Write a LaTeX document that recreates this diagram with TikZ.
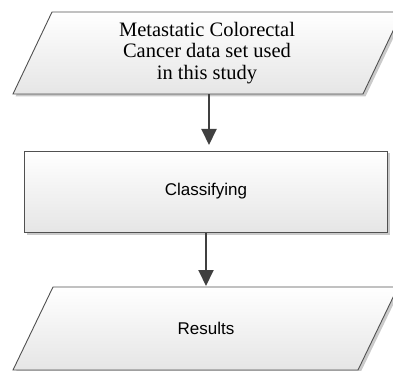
\documentclass[tikz,border=0pt]{standalone}
\usepackage{fontspec}
\setmainfont{Liberation Serif}
\newfontfamily\sansf{Liberation Sans}
\usetikzlibrary{arrows.meta,shadows}
\definecolor{edge}{HTML}{505050}
\definecolor{arr}{HTML}{404040}
\tikzset{
  boxfill/.style={top color=white, bottom color=black!10, draw=edge, line width=0.9pt,
    drop shadow={shadow xshift=2.5pt, shadow yshift=-2.5pt, opacity=0.35, fill=black!60}},
  flowarrow/.style={draw=arr, line width=2pt, -{Triangle[length=16pt,width=15pt]}},
}
\begin{document}
\begin{tikzpicture}[x=1pt,y=-1pt]
\useasboundingbox (0,0) rectangle (393,371);
\begin{scope}
\clip (0,0) rectangle (393,371);
% top parallelogram
\path[boxfill] (52,12) -- (402,12) -- (363,94) -- (13,94) -- cycle;
% box
\path[boxfill] (24,151) rectangle (387,232);
% bottom parallelogram
\path[boxfill] (53,287) -- (398,287) -- (358,370) -- (13,370) -- cycle;
\end{scope}
\node[font=\fontsize{20.5}{21.5}\selectfont, align=center, inner sep=0pt] (data) at (207,53)
  {Metastatic Colorectal\\Cancer data set used\\in this study};
\node[font=\sansf\fontsize{17}{20}\selectfont, inner sep=0pt] (cls) at (206,191.5) {Classifying};
\node[font=\sansf\fontsize{17}{20}\selectfont, inner sep=0pt] (res) at (206,328) {Results};
\coordinate (a1s) at (209,94.5);
\coordinate (a1e) at (209,145);
\coordinate (a2s) at (206,232.5);
\coordinate (a2e) at (206,286);
\draw[flowarrow] (a1s) -- (a1e);
\draw[flowarrow] (a2s) -- (a2e);
\end{tikzpicture}
\end{document}
